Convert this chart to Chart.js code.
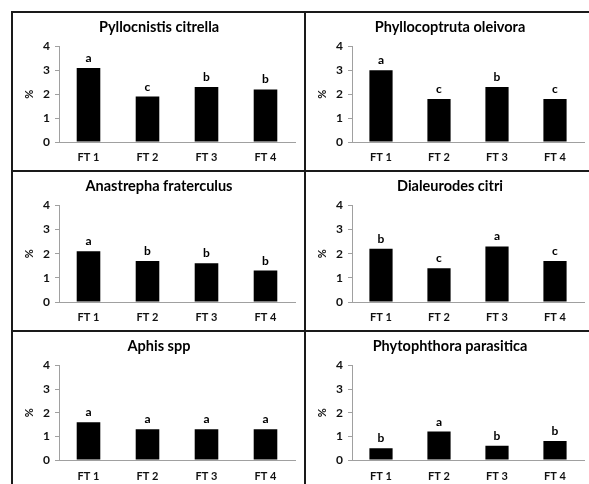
<!DOCTYPE html>
<html>
<head>
<meta charset="utf-8">
<script src="https://cdn.jsdelivr.net/npm/chart.js@4"></script>
<style>
  html, body { margin: 0; padding: 0; background: #fff; }
  body { width: 589px; height: 484px; position: relative; overflow: hidden; }
  .line { position: absolute; background: #1a1a1a; }
  canvas { position: absolute; }
</style>
</head>
<body>
<div class="line" style="left:11px;top:11px;width:578px;height:2px"></div>
<div class="line" style="left:11px;top:11px;width:2px;height:473px"></div>
<div class="line" style="left:304px;top:11px;width:2px;height:473px"></div>
<div class="line" style="left:11px;top:170px;width:578px;height:2px"></div>
<div class="line" style="left:11px;top:330px;width:578px;height:2px"></div>

<canvas id="c1" width="291" height="157" style="left:13px;top:13px"></canvas>
<canvas id="c2" width="283" height="157" style="left:306px;top:13px"></canvas>
<canvas id="c3" width="291" height="158" style="left:13px;top:172px"></canvas>
<canvas id="c4" width="283" height="158" style="left:306px;top:172px"></canvas>
<canvas id="c5" width="291" height="152" style="left:13px;top:332px"></canvas>
<canvas id="c6" width="283" height="152" style="left:306px;top:332px"></canvas>

<script>
// ---- data ----
const categories = ['FT 1', 'FT 2', 'FT 3', 'FT 4'];
const yTickValues = [0, 1, 2, 3, 4];

const titles = [
  'Pyllocnistis citrella',
  'Phyllocoptruta oleivora',
  'Anastrepha fraterculus',
  'Dialeurodes citri',
  'Aphis spp',
  'Phytophthora parasitica'
];

const pyllocnistisValues   = [3.1, 1.9, 2.3, 2.2];
const phyllocoptrutaValues = [3.0, 1.8, 2.3, 1.8];
const anastrephaValues     = [2.1, 1.7, 1.6, 1.3];
const dialeurodesValues    = [2.2, 1.4, 2.3, 1.7];
const aphisValues          = [1.6, 1.3, 1.3, 1.3];
const phytophthoraValues   = [0.5, 1.2, 0.6, 0.8];

const pyllocnistisLetters   = ['a', 'c', 'b', 'b'];
const phyllocoptrutaLetters = ['a', 'c', 'b', 'c'];
const anastrephaLetters     = ['a', 'b', 'b', 'b'];
const dialeurodesLetters    = ['b', 'c', 'a', 'c'];
const aphisLetters          = ['a', 'a', 'a', 'a'];
const phytophthoraLetters   = ['b', 'a', 'b', 'b'];

const allValues = [pyllocnistisValues, phyllocoptrutaValues, anastrephaValues,
                   dialeurodesValues, aphisValues, phytophthoraValues];
const allLetters = [pyllocnistisLetters, phyllocoptrutaLetters, anastrephaLetters,
                    dialeurodesLetters, aphisLetters, phytophthoraLetters];

// ---- rendering ----
const FONT = 'Lato, "Open Sans", "Liberation Sans", sans-serif';
Chart.defaults.font.family = FONT;

const letterPlugin = {
  id: 'letters',
  afterDatasetsDraw(chart, args, opts) {
    const ctx = chart.ctx;
    const meta = chart.getDatasetMeta(0);
    ctx.save();
    ctx.fillStyle = '#000';
    ctx.font = 'bold 12px ' + FONT;
    ctx.textAlign = 'center';
    ctx.textBaseline = 'alphabetic';
    meta.data.forEach((bar, i) => {
      ctx.fillText(opts.letters[i], bar.x, bar.y - 6);
    });
    ctx.restore();
  }
};

function makeChart(idx) {
  const isLeft = idx % 2 === 0;
  const row = Math.floor(idx / 2);
  const xHeight = row === 2 ? 24 : 28;
  const xPad = row === 2 ? 10 : 9;
  new Chart(document.getElementById('c' + (idx + 1)), {
    type: 'bar',
    data: {
      labels: categories,
      datasets: [{
        data: allValues[idx],
        backgroundColor: '#000',
        borderWidth: 0,
        barPercentage: 0.4,
        categoryPercentage: 1.0
      }]
    },
    options: {
      responsive: false,
      animation: false,
      devicePixelRatio: 1,
      layout: { padding: { left: 10, right: isLeft ? 9 : 5, top: 0, bottom: 0 } },
      plugins: {
        legend: { display: false },
        tooltip: { enabled: false },
        title: {
          display: true,
          text: titles[idx],
          color: '#000',
          font: { size: 14.5, weight: 'bold', family: FONT },
          padding: { top: 6, bottom: 10 }
        },
        letters: { letters: allLetters[idx] }
      },
      scales: {
        x: {
          afterFit(scale) { scale.height = xHeight; },
          grid: { display: false, drawTicks: false },
          border: { display: true, color: '#a0a0a0', width: 1 },
          ticks: {
            color: '#111',
            padding: xPad,
            font: { size: 11, weight: 'bold', family: FONT }
          }
        },
        y: {
          min: 0,
          max: 4,
          afterFit(scale) { scale.width = 36; },
          afterBuildTicks(scale) { scale.ticks = yTickValues.map(v => ({ value: v })); },
          grid: { display: true, drawOnChartArea: false, drawTicks: true, tickLength: 4, color: '#a0a0a0' },
          border: { display: true, color: '#a0a0a0', width: 1 },
          ticks: {
            color: '#111',
            padding: 5,
            font: { size: 12, weight: 'bold', family: FONT }
          },
          title: {
            display: true,
            text: '%',
            color: '#111',
            padding: 0,
            font: { size: 11, weight: 'bold', family: FONT }
          }
        }
      }
    },
    plugins: [letterPlugin]
  });
}

for (let i = 0; i < 6; i++) makeChart(i);
</script>
</body>
</html>
